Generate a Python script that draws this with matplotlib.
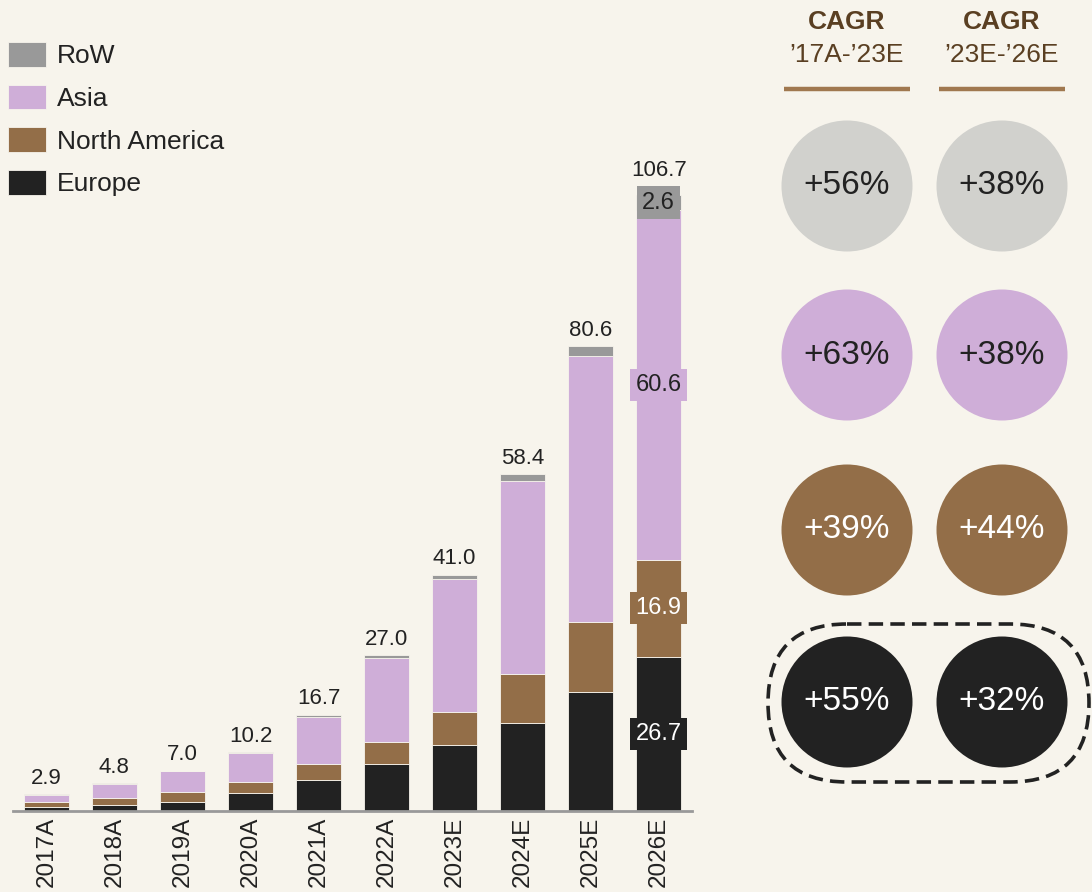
import numpy as np
import matplotlib.pyplot as plt
from matplotlib.patches import Circle, FancyBboxPatch

# ---- data ----
years = ['2017A', '2018A', '2019A', '2020A', '2021A', '2022A', '2023E', '2024E', '2025E', '2026E']
europe = [0.7, 1.0, 1.6, 3.1, 5.4, 8.1, 11.4, 15.3, 20.6, 26.7]
north_america = [0.9, 1.3, 1.7, 1.9, 2.7, 3.9, 5.8, 8.4, 12.2, 16.9]
asia = [1.2, 2.4, 3.6, 5.0, 8.2, 14.5, 23.0, 33.5, 46.1, 60.6]
row = [0.1, 0.1, 0.1, 0.2, 0.4, 0.5, 0.8, 1.2, 1.7, 2.6]
totals = [2.9, 4.8, 7.0, 10.2, 16.7, 27.0, 41.0, 58.4, 80.6, 106.7]

cagr_17_23 = ['+56%', '+63%', '+39%', '+55%']   # RoW, Asia, NA, Europe
cagr_23_26 = ['+38%', '+38%', '+44%', '+32%']

bg = '#F7F4EC'
c_eu = '#222222'
c_na = '#936E48'
c_as = '#CFAED8'
c_row = '#999999'
c_grey_circle = '#D1D1CD'
brown_txt = '#5A3F22'

plt.rcParams['font.family'] = ['Liberation Sans', 'DejaVu Sans']

W, H = 1092, 892
fig = plt.figure(figsize=(W / 100, H / 100), dpi=100, facecolor=bg)

# ---- bar chart ----
ax = fig.add_axes([13 / W, (H - 811) / H, 679 / W, 692 / H])
ax.set_facecolor('none')
x = np.arange(len(years))
w = 0.66
eu = np.array(europe)
na = np.array(north_america)
asi = np.array(asia)
rw = np.array(row)
ec = dict(edgecolor=bg, linewidth=0.6)
b_eu = ax.bar(x, eu, w, color=c_eu, label='Europe', **ec)
b_na = ax.bar(x, na, w, bottom=eu, color=c_na, label='North America', **ec)
b_as = ax.bar(x, asi, w, bottom=eu + na, color=c_as, label='Asia', **ec)
b_rw = ax.bar(x, rw, w, bottom=eu + na + asi, color=c_row, label='RoW', **ec)

ax.set_xlim(-0.49, 9.49)
ax.set_ylim(0, 120)
ax.set_xticks(x)
ax.set_xticklabels(years, rotation=90, fontsize=17.5, color='#222222')
ax.tick_params(axis='x', length=0, pad=4)
ax.set_yticks([])
for s in ['top', 'right', 'left']:
    ax.spines[s].set_visible(False)
ax.spines['bottom'].set_color('#999999')
ax.spines['bottom'].set_linewidth(2)

for i, t in enumerate(totals):
    off = 10 if i == len(totals) - 1 else 4
    ax.annotate(f'{t:.1f}', (x[i], eu[i] + na[i] + asi[i] + rw[i]), xytext=(0, off),
                textcoords='offset points', ha='center', va='bottom',
                fontsize=16, color='#222222')

# segment labels on last bar
li = len(years) - 1
seg_labels = [
    (eu[li] / 2, europe[li], c_eu, 'white'),
    (eu[li] + na[li] / 2, north_america[li], c_na, 'white'),
    (eu[li] + na[li] + asi[li] / 2, asia[li], c_as, '#222222'),
    (eu[li] + na[li] + asi[li] + rw[li] / 2, row[li], c_row, '#222222'),
]
for yv, val, fc, tc in seg_labels:
    ax.text(x[li], yv, f'{val:.1f}', ha='center', va='center', fontsize=17, color=tc,
            bbox=dict(boxstyle='square,pad=0.22', facecolor=fc, edgecolor='none'))

# legend
handles = [b_rw, b_as, b_na, b_eu]
fig.legend(handles, [h.get_label() for h in handles], loc='upper left',
           bbox_to_anchor=(8 / W, 1 - 42 / H), frameon=False, fontsize=19,
           handlelength=1.44, handleheight=1.06, handletextpad=0.42,
           labelspacing=0.62, borderpad=0, borderaxespad=0, labelcolor='#222222')

# ---- CAGR panel ----
ov = fig.add_axes([0, 0, 1, 1])
ov.set_xlim(0, W)
ov.set_ylim(H, 0)
ov.axis('off')
ov.set_facecolor('none')

col_x = [847, 1002]
headers = ["\u201917A-\u201923E", "\u201923E-\u201926E"]
for cx, sub in zip(col_x, headers):
    ov.text(cx, 22, 'CAGR', ha='center', va='center', fontsize=19,
            fontweight='bold', color=brown_txt)
    ov.text(cx, 55, sub, ha='center', va='center', fontsize=19, color=brown_txt)
    ov.plot([cx - 63, cx + 63], [89, 89], color='#A0784F', lw=3.2,
            solid_capstyle='butt')

row_y = [186, 355, 530, 702]
circ_colors = [c_grey_circle, c_as, c_na, c_eu]
txt_colors = ['#222222', '#222222', 'white', 'white']
for j, cy in enumerate(row_y):
    for cx, vals in zip(col_x, [cagr_17_23, cagr_23_26]):
        ov.add_patch(Circle((cx, cy), 65.5, facecolor=circ_colors[j], edgecolor='none'))
        ov.text(cx, cy, vals[j], ha='center', va='center', fontsize=24,
                color=txt_colors[j])

ov.add_patch(FancyBboxPatch((768, 624), 321, 158,
                            boxstyle='round,pad=0,rounding_size=79',
                            facecolor='none', edgecolor='#222222', lw=2.6,
                            linestyle=(0, (4, 2))))

fig.savefig('out.png', dpi=100, facecolor=bg)
